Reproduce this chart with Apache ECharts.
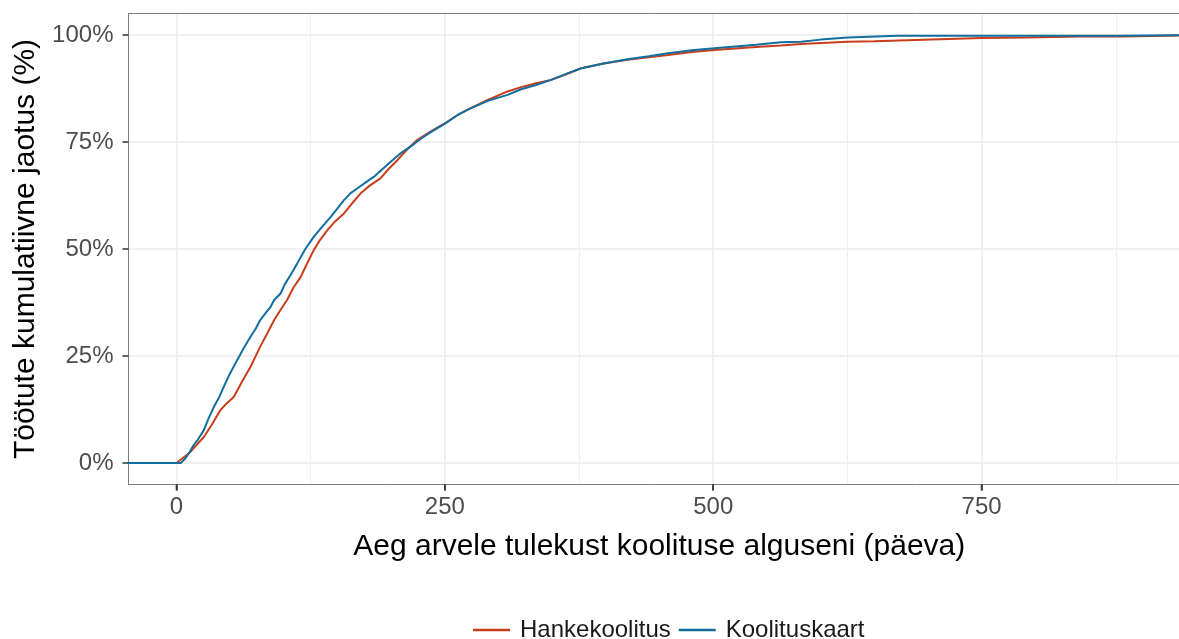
<!DOCTYPE html>
<html>
<head>
<meta charset="utf-8">
<script src="https://cdn.jsdelivr.net/npm/echarts@6/dist/echarts.min.js"></script>
<style>html,body{margin:0;padding:0;background:#fff}#c{width:1179px;height:639px}</style>
</head>
<body>
<div id="c"></div>
<script>
// Hankekoolitus: [days, cumulative %]
var hankeDays = [-60, 0, 0, 6, 13, 19, 25.5, 33, 41, 47, 53.5, 61, 69, 78, 85, 91, 97, 103, 109, 115.7, 122, 128, 134, 140.6, 148, 156, 164, 171.6, 180, 190, 198, 206, 215, 224.5, 237, 249, 262, 275, 290, 308.5, 321, 335, 349, 363, 377, 398, 420, 440, 458, 480, 501, 540, 563, 582, 625, 650, 688, 750, 790, 843, 881.5, 881.5, 960];
var hankePct  = [0, 0, 0.3, 1.2, 2.6, 4.3, 6.1, 9, 12.4, 14, 15.5, 19, 22.5, 27.2, 30.5, 33.4, 35.8, 38.1, 41, 43.5, 46.8, 49.8, 52.2, 54.4, 56.5, 58.3, 60.8, 63, 64.8, 66.5, 68.8, 70.8, 73.3, 75.5, 77.5, 79.2, 81.3, 83, 84.8, 86.8, 87.8, 88.7, 89.5, 90.8, 92.2, 93.3, 94.2, 94.8, 95.3, 96, 96.5, 97.2, 97.5, 97.9, 98.4, 98.5, 98.8, 99.3, 99.4, 99.6, 99.6, 100, 100];
// Koolituskaart: [days, cumulative %]
var kaartDays = [-60, 4, 8, 12, 16, 20, 25.5, 30, 35, 40, 44, 50, 56.6, 63, 69, 74, 78, 83, 87.7, 91, 97, 101, 106, 112.6, 120, 128, 136, 143.7, 150, 156, 162, 168.6, 176, 184, 192, 199.6, 209, 218, 228, 237, 249, 262, 271, 290, 308.5, 321, 335, 349, 363, 377, 398, 420, 440, 458, 480, 501, 540, 563, 582, 600, 625.6, 671, 750, 800, 876.5, 876.5, 960];
var kaartPct  = [0, 0, 1, 2.5, 4.2, 5.5, 7.7, 10.5, 13.2, 15.5, 17.8, 21, 24.1, 27, 29.5, 31.5, 33.4, 35, 36.5, 38.1, 39.6, 41.8, 43.8, 46.7, 50, 52.9, 55.3, 57.5, 59.5, 61.4, 63, 64.2, 65.5, 66.9, 68.7, 70.4, 72.4, 73.9, 75.8, 77.3, 79.1, 81.3, 82.5, 84.6, 86, 87.3, 88.3, 89.5, 90.9, 92.2, 93.3, 94.3, 95, 95.7, 96.4, 96.9, 97.7, 98.3, 98.4, 98.9, 99.4, 99.8, 99.8, 99.8, 99.8, 100, 100];

var seriesNames = ['Hankekoolitus', 'Koolituskaart'];
var xMajorTicks = [0, 250, 500, 750];
var xMinorTicks = [0, 125, 250, 375, 500, 625, 750, 875];
var yTicks = [0, 25, 50, 75, 100];
var xTitle = 'Aeg arvele tulekust koolituse alguseni (päeva)';
var yTitle = 'Töötute kumulatiivne jaotus (%)';

function zip(a, b) { return a.map(function (v, i) { return [v, b[i]]; }); }

var FONT = '"Liberation Sans", Arial, sans-serif';
var BORDER = { show: true, onZero: false, lineStyle: { color: '#7f7f7f', width: 1 } };
var TICK = { show: true, inside: false, length: 6, lineStyle: { color: '#333333', width: 1.5 } };
var X_MIN = -44.7, X_MAX = 933.9, Y_MIN = -5, Y_MAX = 105;
var chart = echarts.init(document.getElementById('c'), null, { renderer: 'canvas' });
chart.setOption({
  backgroundColor: '#ffffff',
  animation: false,
  textStyle: { fontFamily: FONT },
  grid: { left: 128.5, top: 13.5, right: 0, bottom: 154.5, show: false, containLabel: false },
  legend: {
    data: seriesNames,
    left: 468, top: 613,
    icon: 'rect', itemWidth: 37, itemHeight: 2.5, itemGap: 8,
    textStyle: { fontSize: 24, color: '#1a1a1a', fontFamily: FONT, padding: [0, 0, 0, 5] }
  },
  xAxis: [
    {
      type: 'value', min: X_MIN, max: X_MAX, position: 'bottom',
      axisLine: BORDER,
      axisTick: Object.assign({ customValues: xMajorTicks }, TICK),
      axisLabel: { customValues: xMajorTicks, fontSize: 24, color: '#4d4d4d', margin: 11, fontFamily: FONT },
      splitLine: { show: true, lineStyle: { color: '#ebebeb', width: 1.5 } },
      name: xTitle, nameLocation: 'middle', nameGap: 47,
      nameTextStyle: { fontSize: 30, color: '#000000', fontFamily: FONT, padding: [0, 0, 0, 11] }
    },
    {
      type: 'value', min: X_MIN, max: X_MAX, position: 'top',
      axisLine: BORDER,
      axisTick: { show: false, customValues: xMinorTicks },
      axisLabel: { show: false },
      splitLine: { show: true, lineStyle: { color: '#f0f0f0', width: 1 } }
    }
  ],
  yAxis: {
    type: 'value', min: Y_MIN, max: Y_MAX, position: 'left',
    axisLine: BORDER,
    axisTick: Object.assign({ customValues: yTicks }, TICK),
    axisLabel: { customValues: yTicks, formatter: '{value}%', fontSize: 24, color: '#4d4d4d', margin: 15, fontFamily: FONT },
    splitLine: { show: true, lineStyle: { color: '#ebebeb', width: 1.5 } },
    name: yTitle, nameLocation: 'middle', nameRotate: 90, nameGap: 87,
    nameTextStyle: { fontSize: 30, color: '#000000', fontFamily: FONT }
  },
  series: [
    {
      name: seriesNames[0], type: 'line', xAxisIndex: 0, data: zip(hankeDays, hankePct),
      showSymbol: false, symbol: 'none', clip: true, z: 3,
      lineStyle: { color: '#c93d1b', width: 2 }, itemStyle: { color: '#c93d1b' }
    },
    {
      name: seriesNames[1], type: 'line', xAxisIndex: 0, data: zip(kaartDays, kaartPct),
      showSymbol: false, symbol: 'none', clip: true, z: 4,
      lineStyle: { color: '#106f9f', width: 2 }, itemStyle: { color: '#106f9f' }
    },
    {
      name: 'xticks', type: 'scatter', xAxisIndex: 0, silent: true, clip: false, z: 10,
      data: xMajorTicks.map(function (v) { return [v, Y_MIN]; }),
      symbol: 'rect', symbolSize: [1.6, 6], symbolOffset: [0, 3],
      itemStyle: { color: '#333333', opacity: 1 },
      tooltip: { show: false }
    }
  ]
});
</script>
</body>
</html>
